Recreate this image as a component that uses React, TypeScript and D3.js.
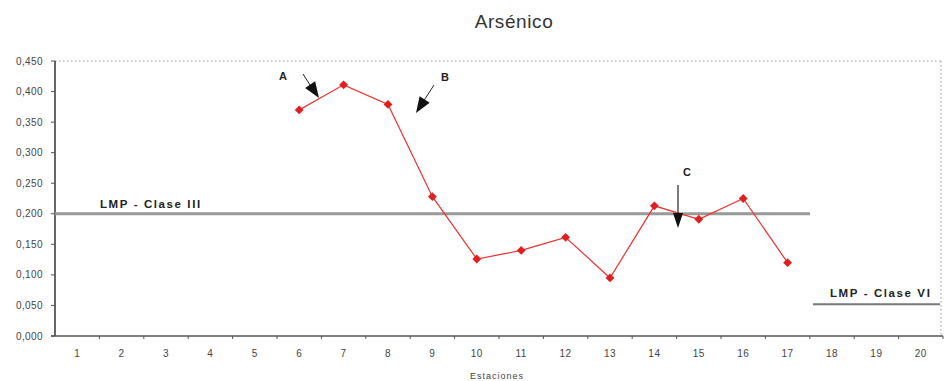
import React from "react";
import * as d3 from "d3";

const estaciones = Array.from({ length: 20 }, (_, i) => String(i + 1));
const serieEstaciones = ["6", "7", "8", "9", "10", "11", "12", "13", "14", "15", "16", "17"];
const serieValores = [0.37, 0.411, 0.379, 0.228, 0.126, 0.14, 0.1615, 0.095, 0.213, 0.191, 0.225, 0.12];
const yTicks = [0, 0.05, 0.1, 0.15, 0.2, 0.25, 0.3, 0.35, 0.4, 0.45];
const lmpClaseIII = 0.2;
const lmpClaseVI = 0.052;

const W = 948;
const H = 381;
const M = { left: 55, right: 5, top: 61, bottom: 45 };

export default function App() {
  const x = d3.scaleBand<string>().domain(estaciones).range([M.left, W - M.right]);
  const y = d3.scaleLinear().domain([0, 0.45]).range([H - M.bottom, M.top]);
  const cx = (s: string) => (x(s) as number) + x.bandwidth() / 2;
  const line = d3
    .line<number>()
    .x((_, i) => cx(serieEstaciones[i]))
    .y((d) => y(d));
  const fmt = (v: number) => d3.format(".3f")(v).replace(".", ",");
  const x0 = M.left;
  const x1 = W - M.right;
  const yb = y(0);
  const yt = y(0.45);
  const font = "Liberation Sans, Arial, sans-serif";
  const diamond = d3.symbol().type(d3.symbolDiamond2).size(50)();

  const head = (tx: number, ty: number, fx: number, fy: number, len = 16, w = 6) => {
    const ang = Math.atan2(ty - fy, tx - fx);
    const bx = tx - len * Math.cos(ang);
    const by = ty - len * Math.sin(ang);
    const px = -Math.sin(ang) * w;
    const py = Math.cos(ang) * w;
    return `M${tx},${ty}L${bx + px},${by + py}L${bx - px},${by - py}Z`;
  };

  return (
    <svg width={W} height={H} style={{ display: "block", position: "absolute", left: 0, top: 0 }} fontFamily={font}>
      <rect width={W} height={H} fill="#fff" />
      <text x={514} y={28} textAnchor="middle" fontSize={19} fill="#333" letterSpacing={0.6}>Arsénico</text>
      {/* plot border dotted */}
      <line x1={x0} x2={x1} y1={yt} y2={yt} stroke="#999" strokeDasharray="1.5,2.5" />
      <line x1={x1 - 2} x2={x1 - 2} y1={yt} y2={yb} stroke="#999" strokeDasharray="1.5,2.5" />
      {/* y axis */}
      <line x1={x0} x2={x0} y1={yt} y2={yb} stroke="#333" strokeWidth={1.5} />
      {yTicks.map((t) => (
        <g key={t}>
          <line x1={x0 - 4} x2={x0} y1={y(t)} y2={y(t)} stroke="#555" />
          <text x={x0 - 12} y={y(t)} dy="0.35em" textAnchor="end" fontSize={10} fill="#444" letterSpacing={0.4}>
            {fmt(t)}
          </text>
        </g>
      ))}
      {/* x axis */}
      <line x1={x0 - 4} x2={x1} y1={yb} y2={yb} stroke="#555" strokeWidth={1.5} />
      {estaciones.map((s) => (
        <g key={s}>
          <line x1={(x(s) as number) + x.bandwidth()} x2={(x(s) as number) + x.bandwidth()} y1={yb} y2={yb + 3} stroke="#555" />
          <text x={cx(s)} y={yb + 21} textAnchor="middle" fontSize={10} fill="#444" letterSpacing={0.5}>{s}</text>
        </g>
      ))}
      <text x={497} y={379} textAnchor="middle" fontSize={9} fill="#444" letterSpacing={1}>Estaciones</text>
      {/* LMP lines */}
      <line x1={x0} x2={810} y1={y(lmpClaseIII)} y2={y(lmpClaseIII)} stroke="#999" strokeWidth={3} />
      <text x={100} y={y(lmpClaseIII) - 6} fontSize={11.5} fontWeight="bold" fill="#222" letterSpacing={1.6}>LMP - Clase III</text>
      <line x1={813} x2={940} y1={y(lmpClaseVI)} y2={y(lmpClaseVI)} stroke="#777" strokeWidth={2} />
      <text x={830} y={y(lmpClaseVI) - 7} fontSize={11.5} fontWeight="bold" fill="#222" letterSpacing={1.6}>LMP - Clase VI</text>
      {/* series */}
      <path d={line(serieValores) || ""} fill="none" stroke="#ee3030" strokeWidth={1.2} />
      {serieValores.map((v, i) => (
        <path key={i} d={diamond || ""} transform={`translate(${cx(serieEstaciones[i])},${y(v)})`} fill="#e02020" />
      ))}
      {/* arrows */}
      <text x={283} y={80} textAnchor="middle" fontSize={11} fontWeight="bold" fill="#222">A</text>
      <line x1={303} y1={74} x2={312} y2={88} stroke="#222" strokeWidth={1} />
      <path d={head(319, 98, 303, 74)} fill="#111" />
      <text x={445} y={81} textAnchor="middle" fontSize={11} fontWeight="bold" fill="#222">B</text>
      <line x1={434} y1={85} x2={423} y2={102} stroke="#222" strokeWidth={1} />
      <path d={head(416, 113, 434, 85)} fill="#111" />
      <text x={687} y={176} textAnchor="middle" fontSize={11} fontWeight="bold" fill="#222">C</text>
      <line x1={678} y1={185} x2={678} y2={213} stroke="#222" strokeWidth={1.2} />
      <path d={head(678, 228, 678, 185, 15, 5)} fill="#111" />
    </svg>
  );
}
